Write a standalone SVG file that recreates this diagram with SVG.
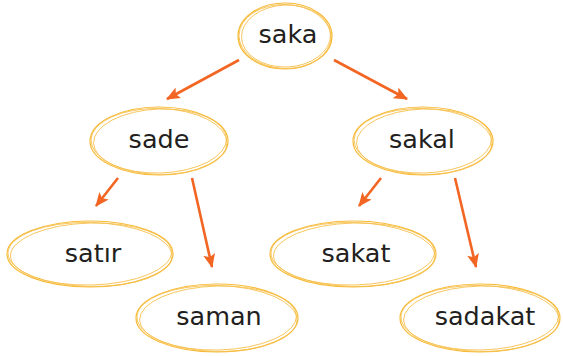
<svg xmlns="http://www.w3.org/2000/svg" width="563" height="356" viewBox="0 0 563 356">
<defs>
<style>
.ring{fill:none;stroke:#f8bb3a;stroke-width:1.2}
.ring2{fill:none;stroke:#f6c04e;stroke-width:0.9}
.lbl{font-family:"DejaVu Sans","Noto Sans",sans-serif;font-size:25.5px;fill:#231f20;text-anchor:middle}
.con{stroke:#f26522;stroke-width:2.6;fill:none;marker-end:url(#ah)}
</style>
<marker id="ah" viewBox="0 0 14 12" refX="13" refY="6" markerWidth="14" markerHeight="12" markerUnits="userSpaceOnUse" orient="auto">
<path d="M0,0 L14,6 L0,12 L3,6 Z" fill="#f26522"/>
</marker>
</defs>
<rect width="563" height="356" fill="#ffffff"/>
<g id="connectors">
<line class="con" x1="239" y1="60" x2="167" y2="99"/>
<line class="con" x1="334" y1="60" x2="407" y2="99"/>
<line class="con" x1="118" y1="178" x2="96" y2="206"/>
<line class="con" x1="192" y1="178" x2="212" y2="267"/>
<line class="con" x1="381" y1="178" x2="359" y2="206"/>
<line class="con" x1="455" y1="178" x2="476" y2="267"/>
</g>
<g id="node-saka">
<ellipse class="ring" cx="285" cy="36" rx="47" ry="33"/>
<ellipse class="ring2" cx="286" cy="36" rx="44.5" ry="31" transform="rotate(-2 286 36)"/>
<ellipse class="ring2" cx="285" cy="36.5" rx="46" ry="32" transform="rotate(2 285 36)"/>
<text class="lbl" x="288" y="43">saka</text>
</g>
<g id="node-sade">
<ellipse class="ring" cx="159" cy="141" rx="69" ry="34"/>
<ellipse class="ring2" cx="160" cy="141" rx="66.5" ry="32" transform="rotate(-2 160 141)"/>
<ellipse class="ring2" cx="159" cy="141.5" rx="68" ry="33" transform="rotate(1.5 159 141)"/>
<text class="lbl" x="159" y="148">sade</text>
</g>
<g id="node-sakal">
<ellipse class="ring" cx="423" cy="141" rx="70" ry="34"/>
<ellipse class="ring2" cx="424" cy="141" rx="67.5" ry="32" transform="rotate(-2 424 141)"/>
<ellipse class="ring2" cx="423" cy="141.5" rx="69" ry="33" transform="rotate(1.5 423 141)"/>
<text class="lbl" x="422" y="148">sakal</text>
</g>
<g id="node-satir">
<ellipse class="ring" cx="90" cy="254" rx="83" ry="33"/>
<ellipse class="ring2" cx="91" cy="254" rx="80.5" ry="31" transform="rotate(-1.5 91 254)"/>
<ellipse class="ring2" cx="90" cy="254.5" rx="82" ry="32" transform="rotate(1.2 90 254)"/>
<text class="lbl" x="93" y="262">satır</text>
</g>
<g id="node-saman">
<ellipse class="ring" cx="217" cy="318" rx="81" ry="34"/>
<ellipse class="ring2" cx="218" cy="318" rx="78.5" ry="32" transform="rotate(-1.5 218 318)"/>
<ellipse class="ring2" cx="217" cy="318.5" rx="80" ry="33" transform="rotate(1.2 217 318)"/>
<text class="lbl" x="219" y="325">saman</text>
</g>
<g id="node-sakat">
<ellipse class="ring" cx="353" cy="254" rx="83" ry="33"/>
<ellipse class="ring2" cx="354" cy="254" rx="80.5" ry="31" transform="rotate(-1.5 354 254)"/>
<ellipse class="ring2" cx="353" cy="254.5" rx="82" ry="32" transform="rotate(1.2 353 254)"/>
<text class="lbl" x="356" y="262">sakat</text>
</g>
<g id="node-sadakat">
<ellipse class="ring" cx="480" cy="318" rx="80" ry="34"/>
<ellipse class="ring2" cx="481" cy="318" rx="77.5" ry="32" transform="rotate(-1.5 481 318)"/>
<ellipse class="ring2" cx="480" cy="318.5" rx="79" ry="33" transform="rotate(1.2 480 318)"/>
<text class="lbl" x="485" y="325">sadakat</text>
</g>
</svg>
